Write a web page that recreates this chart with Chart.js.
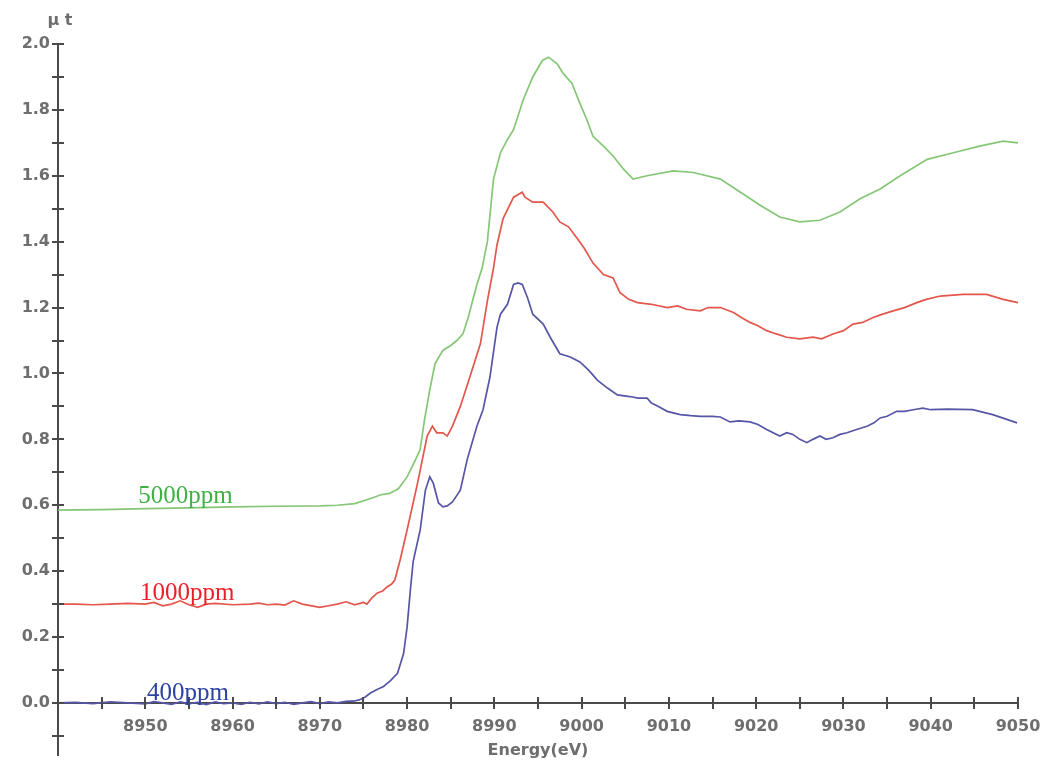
<!DOCTYPE html>
<html>
<head>
<meta charset="utf-8">
<script src="https://cdn.jsdelivr.net/npm/chart.js@4.4.1/dist/chart.umd.min.js"></script>
<style>
html,body{margin:0;padding:0;background:#fff;}
#wrap{width:1047px;height:767px;}
</style>
</head>
<body>
<div id="wrap"><canvas id="c" width="1047" height="767"></canvas></div>
<script>
// ---------- data ----------
const seriesNames = ['5000ppm', '1000ppm', '400ppm'];

const energy5000 = [8940,8945,8950,8955,8960,8965,8970,8972,8974,8976,8977,8978,8979,8980,8981,8981.5,8982,8982.6,8983.2,8984.1,8985,8985.7,8986.4,8987,8988,8988.6,8989.2,8989.9,8990.7,8991.5,8992.2,8993.3,8994.4,8995.5,8996.2,8997.2,8997.9,8998.9,8999.8,9000.6,9001.3,9002.5,9003.6,9004.8,9005.9,9007.5,9010.5,9012.8,9015.9,9018.2,9020.5,9022.7,9025,9027.3,9029.6,9031.9,9034.2,9036.5,9039.6,9042.6,9045.6,9048.3,9050];
const mu5000 = [0.585,0.587,0.59,0.592,0.595,0.597,0.598,0.60,0.605,0.622,0.632,0.636,0.65,0.686,0.74,0.77,0.86,0.95,1.03,1.07,1.085,1.10,1.12,1.17,1.27,1.32,1.40,1.59,1.67,1.71,1.74,1.83,1.90,1.95,1.96,1.94,1.91,1.88,1.82,1.77,1.72,1.69,1.66,1.62,1.59,1.60,1.615,1.61,1.59,1.55,1.51,1.475,1.46,1.465,1.49,1.53,1.56,1.60,1.65,1.67,1.69,1.705,1.70];

const energy1000 = [8940,8942,8944,8946,8948,8950,8951,8952,8953,8954,8955,8956,8957,8958,8960,8962,8963,8964,8965,8966,8967,8968,8970,8971,8972,8973,8974,8975,8975.4,8976,8976.6,8977.2,8977.7,8978.2,8978.6,8979.2,8980,8981.2,8982.3,8982.9,8983.4,8984.1,8984.6,8985.2,8986.1,8987.2,8988.4,8989.2,8989.9,8990.3,8991,8992.2,8993.2,8993.5,8994.4,8995.6,8996.7,8997.5,8998.5,8999.5,9000.3,9001.3,9002.5,9003.6,9004.4,9005.4,9006.4,9008,9009.8,9011,9012,9013.6,9014.5,9015.9,9017.4,9018.3,9019.3,9020.2,9021.2,9022.3,9023.5,9025,9026.5,9027.5,9028.8,9030,9031.1,9032.2,9033.4,9034.5,9035.7,9037,9038.4,9039.5,9041.1,9043.7,9046.4,9048.3,9050];
const mu1000 = [0.30,0.30,0.298,0.30,0.302,0.30,0.305,0.295,0.30,0.31,0.298,0.29,0.30,0.302,0.298,0.30,0.303,0.298,0.30,0.297,0.31,0.30,0.29,0.295,0.30,0.307,0.298,0.305,0.30,0.32,0.334,0.34,0.352,0.36,0.373,0.434,0.525,0.667,0.81,0.84,0.82,0.82,0.81,0.84,0.90,0.99,1.09,1.22,1.32,1.39,1.47,1.535,1.55,1.535,1.52,1.52,1.49,1.46,1.445,1.41,1.38,1.335,1.30,1.29,1.245,1.225,1.215,1.21,1.20,1.205,1.195,1.19,1.20,1.20,1.185,1.17,1.155,1.145,1.13,1.12,1.11,1.105,1.11,1.105,1.12,1.13,1.15,1.155,1.17,1.18,1.19,1.20,1.215,1.225,1.235,1.24,1.24,1.225,1.215];

const energy400 = [8940,8942,8944,8946,8948,8950,8951,8952,8953,8954,8955,8956,8957,8958,8959,8960,8961,8962,8963,8964,8965,8966,8967,8968,8969,8970,8971,8972,8973,8974,8974.6,8975.2,8975.8,8976.5,8977.3,8978.1,8978.9,8979.6,8980,8980.4,8980.7,8981.5,8982.1,8982.6,8983,8983.6,8984.1,8984.6,8985.2,8986.1,8986.9,8988,8988.7,8989.5,8990.3,8990.7,8991.5,8992.2,8992.7,8993.2,8993.8,8994.4,8995.6,8996.4,8997.5,8998.7,8999.8,9000.8,9001.8,9003,9004.1,9005.5,9006.5,9007.5,9008,9008.8,9009.8,9011.3,9012.5,9013.6,9015,9015.9,9017,9018,9019.3,9020.2,9021.2,9022.7,9023.5,9024.2,9025,9025.8,9026.5,9027.3,9028,9028.8,9029.6,9030.4,9031.5,9032.7,9033.5,9034.2,9035,9036.1,9037,9038,9039.1,9040,9041.9,9044.8,9047.1,9049.9];
const mu400 = [0.0,0.002,-0.002,0.003,0.0,-0.003,0.004,0.0,-0.004,0.003,-0.002,0.002,-0.005,0.003,-0.002,0.0,-0.004,0.002,-0.003,0.003,-0.002,0.002,-0.004,0.0,0.004,-0.002,0.003,0.0,0.005,0.006,0.01,0.018,0.03,0.04,0.05,0.068,0.09,0.15,0.23,0.35,0.43,0.525,0.646,0.686,0.667,0.607,0.595,0.598,0.61,0.646,0.74,0.84,0.89,0.99,1.14,1.18,1.21,1.27,1.275,1.27,1.23,1.18,1.15,1.11,1.06,1.05,1.035,1.01,0.98,0.955,0.935,0.93,0.925,0.925,0.91,0.90,0.885,0.875,0.872,0.87,0.87,0.868,0.853,0.856,0.853,0.845,0.83,0.81,0.82,0.815,0.80,0.79,0.80,0.81,0.80,0.805,0.815,0.82,0.83,0.84,0.85,0.865,0.87,0.885,0.885,0.89,0.895,0.89,0.892,0.89,0.875,0.85];

const xTickLabels = ['8950','8960','8970','8980','8990','9000','9010','9020','9030','9040','9050'];
const yTickLabels = ['0.0','0.2','0.4','0.6','0.8','1.0','1.2','1.4','1.6','1.8','2.0'];

// label anchors (data units) for the series names
const labelEnergy = [8949.2, 8949.4, 8950.2];
const labelMu = [0.607, 0.313, 0.009];

// ---------- styling ----------
const lineColors = ['#86c677', '#e4564c', '#5656a6'];
const textColors = ['#3fb244', '#ec1f26', '#2d42a3'];
const axisColor = '#4a4a4a';
const tickTextColor = '#6e6e6e';
const tickFont = {family: 'DejaVu Sans', size: 16, weight: 'bold'};

function pairs(xs, ys){ return xs.map((x,i)=>({x:x, y:ys[i]})); }
function noPad(s){ s.paddingLeft = 0; s.paddingRight = 0; s.paddingTop = 0; s.paddingBottom = 0; }

const datasets = [
  {label: seriesNames[0], data: pairs(energy5000, mu5000), borderColor: lineColors[0]},
  {label: seriesNames[1], data: pairs(energy1000, mu1000), borderColor: lineColors[1]},
  {label: seriesNames[2], data: pairs(energy400, mu400), borderColor: lineColors[2]}
].map(d => Object.assign(d, {borderWidth: 1.7, pointRadius: 0, tension: 0, fill: false}));

const decor = {
  id: 'decor',
  afterDraw(chart){
    const ctx = chart.ctx, xs = chart.scales.x, ys = chart.scales.y;
    const x0 = xs.getPixelForValue(xs.min);
    const y0 = ys.getPixelForValue(0);
    ctx.save();
    ctx.strokeStyle = axisColor;
    ctx.lineWidth = 2;
    ctx.beginPath();
    ys.ticks.forEach(t => { const py = Math.round(ys.getPixelForValue(t.value)); ctx.moveTo(x0-6, py); ctx.lineTo(x0+6, py); });
    xs.ticks.forEach(t => { if (t.value === xs.min) return; const px = Math.round(xs.getPixelForValue(t.value)); ctx.moveTo(px, y0-6); ctx.lineTo(px, y0+6); });
    ctx.stroke();
    // axis titles
    ctx.fillStyle = tickTextColor;
    ctx.font = 'bold 16px "DejaVu Sans"';
    ctx.textAlign = 'center';
    ctx.textBaseline = 'middle';
    ctx.fillText('μ t', x0 + 2, ys.getPixelForValue(ys.max) - 23);
    ctx.fillText('Energy(eV)', (xs.left + xs.right)/2, y0 + 48);
    // series name labels
    ctx.font = '25px "Liberation Serif"';
    ctx.textAlign = 'left';
    ctx.textBaseline = 'alphabetic';
    seriesNames.forEach((n,i) => {
      ctx.fillStyle = textColors[i];
      ctx.fillText(n, xs.getPixelForValue(labelEnergy[i]), ys.getPixelForValue(labelMu[i]));
    });
    ctx.restore();
  }
};

new Chart(document.getElementById('c'), {
  type: 'line',
  data: {datasets: datasets},
  options: {
    responsive: false,
    animation: false,
    events: [],
    layout: {padding: {top: 44, right: 29, bottom: 12, left: 0}},
    plugins: {legend: {display: false}, tooltip: {enabled: false}},
    scales: {
      x: {
        type: 'linear',
        position: {y: 0},
        min: 8940, max: 9050,
        afterFit: (s) => { noPad(s); },
        grid: {display: false, drawTicks: false},
        border: {display: true, color: axisColor, width: 2},
        ticks: {
          stepSize: 5, includeBounds: false, autoSkip: false, maxRotation: 0,
          padding: 14, color: tickTextColor, font: tickFont,
          callback: (v) => { const s = String(Math.round(v)); return xTickLabels.includes(s) ? s : ''; }
        }
      },
      y: {
        type: 'linear',
        position: 'left',
        min: -0.158, max: 2.0,
        afterFit: (s) => { s.width = 58; noPad(s); },
        grid: {display: false, drawTicks: false},
        border: {display: true, color: axisColor, width: 2},
        ticks: {
          stepSize: 0.1, includeBounds: false, autoSkip: false,
          padding: 8, color: tickTextColor, font: tickFont,
          callback: (v) => { const s = (Math.abs(v) < 1e-9 ? 0 : v).toFixed(1); return yTickLabels.includes(s) ? s : ''; }
        }
      }
    }
  },
  plugins: [decor]
});
</script>
</body>
</html>
